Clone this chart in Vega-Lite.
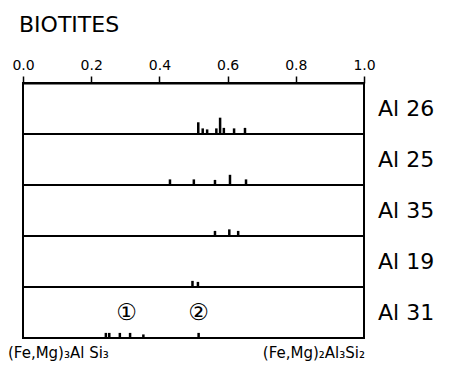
{
  "$schema": "https://vega.github.io/schema/vega-lite/v6.json",
  "padding": {"left": 7, "top": 14, "right": 5, "bottom": 5},
  "bounds": "flush",
  "title": {"text": "BIOTITES", "anchor": "start", "fontSize": 22, "fontWeight": "normal", "font": "DejaVu Sans", "color": "black", "dx": 12, "offset": 21},
  "data": {"values": [
    {"sample": "Al 26", "kind": "peak", "ratio": 0.514, "intensity": 23},
    {"sample": "Al 26", "kind": "peak", "ratio": 0.527, "intensity": 11},
    {"sample": "Al 26", "kind": "peak", "ratio": 0.540, "intensity": 9},
    {"sample": "Al 26", "kind": "peak", "ratio": 0.567, "intensity": 11},
    {"sample": "Al 26", "kind": "peak", "ratio": 0.578, "intensity": 32},
    {"sample": "Al 26", "kind": "peak", "ratio": 0.589, "intensity": 12},
    {"sample": "Al 26", "kind": "peak", "ratio": 0.619, "intensity": 11},
    {"sample": "Al 26", "kind": "peak", "ratio": 0.651, "intensity": 12},
    {"sample": "Al 25", "kind": "peak", "ratio": 0.431, "intensity": 11},
    {"sample": "Al 25", "kind": "peak", "ratio": 0.501, "intensity": 11},
    {"sample": "Al 25", "kind": "peak", "ratio": 0.563, "intensity": 10},
    {"sample": "Al 25", "kind": "peak", "ratio": 0.607, "intensity": 20},
    {"sample": "Al 25", "kind": "peak", "ratio": 0.654, "intensity": 11},
    {"sample": "Al 35", "kind": "peak", "ratio": 0.563, "intensity": 10},
    {"sample": "Al 35", "kind": "peak", "ratio": 0.605, "intensity": 13},
    {"sample": "Al 35", "kind": "peak", "ratio": 0.631, "intensity": 10},
    {"sample": "Al 19", "kind": "peak", "ratio": 0.497, "intensity": 12},
    {"sample": "Al 19", "kind": "peak", "ratio": 0.513, "intensity": 10},
    {"sample": "Al 31", "kind": "peak", "ratio": 0.243, "intensity": 10},
    {"sample": "Al 31", "kind": "peak", "ratio": 0.253, "intensity": 10},
    {"sample": "Al 31", "kind": "peak", "ratio": 0.284, "intensity": 10},
    {"sample": "Al 31", "kind": "peak", "ratio": 0.314, "intensity": 10},
    {"sample": "Al 31", "kind": "peak", "ratio": 0.353, "intensity": 7},
    {"sample": "Al 31", "kind": "peak", "ratio": 0.515, "intensity": 10},
    {"sample": "Al 31", "kind": "marker", "ratio": 0.304, "label": "①"},
    {"sample": "Al 31", "kind": "marker", "ratio": 0.515, "label": "②"},
    {"sample": "Al 31", "kind": "formulaLeft", "ratio": 0, "label": "(Fe,Mg)₃Al Si₃"},
    {"sample": "Al 31", "kind": "formulaRight", "ratio": 1, "label": "(Fe,Mg)₂Al₃Si₂"}
  ]},
  "spacing": {"row": 0, "column": 0},
  "facet": {
    "row": {
      "field": "sample", "type": "nominal",
      "sort": ["Al 26", "Al 25", "Al 35", "Al 19", "Al 31"],
      "header": {"title": null, "orient": "right", "labelAngle": 0, "labelBaseline": "middle", "labelFontSize": 22, "labelPadding": 14, "labelFont": "DejaVu Sans", "labelColor": "black"}
    }
  },
  "spec": {
    "width": 341,
    "height": 51,
    "layer": [
      {
        "transform": [{"filter": "datum.kind == 'peak'"}],
        "mark": {"type": "rule", "color": "black", "strokeWidth": 2.5},
        "encoding": {
          "x": {"field": "ratio", "type": "quantitative", "scale": {"domain": [0, 1], "nice": false},
            "axis": {"orient": "top", "title": null, "values": [0, 0.1, 0.2, 0.3, 0.4, 0.5, 0.6, 0.7, 0.8, 0.9, 1.0],
              "labelExpr": "round(datum.value*10) % 2 == 0 ? format(datum.value, '.1f') : ''",
              "grid": false, "domainColor": "black", "domainWidth": 2, "tickColor": "black", "tickWidth": 1.5, "tickSize": 7,
              "labelFont": "DejaVu Sans", "labelFontSize": 14, "labelColor": "black", "labelPadding": 4, "labelFlush": false}},
          "y": {"field": "intensity", "type": "quantitative", "scale": {"domain": [0, 100]}, "axis": null},
          "y2": {"datum": 0}
        }
      },
      {
        "transform": [{"filter": "datum.kind == 'marker'"}],
        "mark": {"type": "text", "fontSize": 23, "font": "DejaVu Sans", "color": "black", "baseline": "middle"},
        "encoding": {
          "x": {"field": "ratio", "type": "quantitative"},
          "y": {"datum": 50, "type": "quantitative"},
          "text": {"field": "label"}
        }
      },
      {
        "transform": [{"filter": "datum.kind == 'formulaLeft'"}],
        "mark": {"type": "text", "fontSize": 15, "font": "DejaVu Sans", "color": "black", "align": "left", "baseline": "top", "dx": -15, "dy": 8},
        "encoding": {
          "x": {"field": "ratio", "type": "quantitative"},
          "y": {"datum": 0, "type": "quantitative"},
          "text": {"field": "label"}
        }
      },
      {
        "transform": [{"filter": "datum.kind == 'formulaRight'"}],
        "mark": {"type": "text", "fontSize": 15, "font": "DejaVu Sans", "color": "black", "align": "right", "baseline": "top", "dx": 1, "dy": 8},
        "encoding": {
          "x": {"field": "ratio", "type": "quantitative"},
          "y": {"datum": 0, "type": "quantitative"},
          "text": {"field": "label"}
        }
      }
    ]
  },
  "config": {"view": {"stroke": "black", "strokeWidth": 2}, "background": "white"}
}
